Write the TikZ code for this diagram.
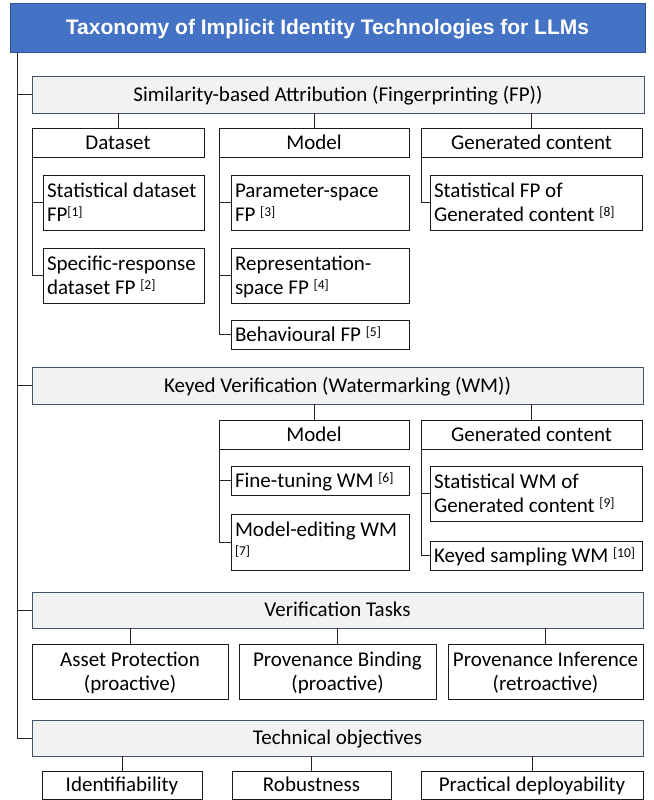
\documentclass[tikz,border=0pt]{standalone}
\usepackage{fontspec}
\setmainfont{Carlito}
\newfontfamily\titlefont{Liberation Sans}
\definecolor{titleblue}{HTML}{4472C4}
\definecolor{titleborder}{HTML}{2F528F}
\definecolor{catfill}{HTML}{F2F2F2}
\definecolor{catborder}{HTML}{44546A}
\definecolor{boxline}{HTML}{1A1A1A}
\definecolor{connline}{HTML}{262626}
\newcommand\rf[1]{\raisebox{5bp}{\fontsize{13.5bp}{13.5bp}\selectfont[#1]}}
\newcommand\tstrut{\rule[-5.5bp]{0pt}{24bp}}
% centred box: style, name, x1, y1, x2, y2, text
\newcommand\cbox[7]{%
  \pgfmathsetlengthmacro\bw{(#5-#3)*1bp}%
  \pgfmathsetlengthmacro\bh{(#6-#4)*1bp}%
  \node[#1, minimum width=\bw, minimum height=\bh] (#2) at ({(#3+#5)/2},{(#4+#6)/2}) {\spaceskip=0pt\xspaceskip=0pt\relax\tstrut #7\tstrut};}
% left-aligned leaf box: name, x1, y1, x2, y2, text
\newcommand\leafbox[6]{%
  \pgfmathsetlengthmacro\bw{(#4-#2)*1bp}%
  \pgfmathsetlengthmacro\bh{(#5-#3)*1bp}%
  \pgfmathsetlengthmacro\tw{(#4-#2-8)*1bp}%
  \node[leaf, minimum width=\bw, minimum height=\bh, text width=\tw] (#1) at ({(#2+#4)/2},{(#3+#5)/2}) {\spaceskip=0pt\xspaceskip=0pt\relax\tstrut #6\tstrut};}
\begin{document}
\begin{tikzpicture}[x=1bp,y=-1bp,
  font=\fontsize{21bp}{24bp}\selectfont,
  base/.style={inner sep=0pt, outer sep=0pt, line width=1bp},
  titlebox/.style={base, draw=titleborder, fill=titleblue, text=white,
    font=\titlefont\bfseries\fontsize{21bp}{24bp}\selectfont},
  catbox/.style={base, draw=catborder, fill=catfill},
  subbox/.style={base, draw=boxline, fill=white, align=center},
  leaf/.style={base, draw=boxline, fill=white, align=left, inner xsep=4bp},
  conn/.style={draw=connline, line width=1bp}]
\useasboundingbox (0,0) rectangle (654,800);

% title and categories
\cbox{titlebox}{title}{10}{4}{645}{53}{Taxonomy of Implicit Identity Technologies for LLMs}
\cbox{catbox}{sim}{32}{76}{644}{113}{Similarity-based Attribution (Fingerprinting (FP))}
\cbox{catbox}{kv}{32}{367}{643}{404}{Keyed Verification (Watermarking (WM))}
\cbox{catbox}{vt}{32}{592}{643}{628}{Verification Tasks}
\cbox{catbox}{tob}{32}{720}{643}{756}{Technical objectives}

% fingerprinting
\cbox{subbox}{fpds}{32}{128}{204}{157}{Dataset}
\cbox{subbox}{fpmd}{219}{128}{409}{157}{Model}
\cbox{subbox}{fpgc}{421}{128}{642}{157}{Generated content}
\leafbox{ds1}{43}{175}{204}{230}{Statistical dataset\\FP\rf{1}}
\leafbox{ds2}{43}{248}{204}{303}{Specific-response\\dataset FP \rf{2}}
\leafbox{md1}{231}{175}{409}{230}{Parameter-space\\FP \rf{3}}
\leafbox{md2}{231}{248}{409}{303}{Representation-\\space FP \rf{4}}
\leafbox{md3}{231}{320}{409}{349}{Behavioural FP \rf{5}}
\leafbox{gc1}{430}{175}{642}{230}{Statistical FP of\\Generated content \rf{8}}

% watermarking
\cbox{subbox}{wmmd}{219}{420}{409}{449}{Model}
\cbox{subbox}{wmgc}{421}{420}{642}{449}{Generated content}
\leafbox{wm1}{231}{466}{409}{495}{Fine-tuning WM \rf{6}}
\leafbox{wm2}{231}{514}{409}{570}{Model-editing WM\\\rf{7}}
\leafbox{wg1}{430}{466}{642}{521}{Statistical WM of\\Generated content \rf{9}}
\leafbox{wg2}{430}{541}{642}{570}{Keyed sampling WM \rf{10}}

% tasks
\cbox{subbox}{t1}{32}{644}{228}{699}{Asset Protection\\(proactive)}
\cbox{subbox}{t2}{239}{644}{436}{699}{Provenance Binding\\(proactive)}
\cbox{subbox}{t3}{448}{644}{643}{699}{Provenance Inference\\(retroactive)}

% objectives
\cbox{subbox}{o1}{42}{771}{202}{799}{Identifiability}
\cbox{subbox}{o2}{232}{771}{391}{799}{Robustness}
\cbox{subbox}{o3}{421}{771}{643}{799}{Practical deployability}

% trunk
\coordinate (trunk) at ([xshift=7bp]title.south west);
\foreach \n in {sim,kv,vt,tob} \draw[conn] (trunk) |- (\n.west);

% category to sub-boxes
\foreach \c in {fpds,fpmd,fpgc} \draw[conn] (sim.south -| \c.north) -- (\c.north);
\foreach \c in {wmmd,wmgc} \draw[conn] (kv.south -| \c.north) -- (\c.north);
\foreach \c in {t1,t2,t3} \draw[conn] (vt.south -| \c.north) -- (\c.north);
\foreach \c in {o1,o2,o3} \draw[conn] (tob.south -| \c.north) -- (\c.north);

% sub-boxes to leaves
\foreach \c in {ds1,ds2} \draw[conn] (fpds.south west) |- (\c.west);
\foreach \c in {md1,md2,md3} \draw[conn] (fpmd.south west) |- (\c.west);
\draw[conn] (fpgc.south west) |- (gc1.west);
\foreach \c in {wm1,wm2} \draw[conn] (wmmd.south west) |- (\c.west);
\foreach \c in {wg1,wg2} \draw[conn] (wmgc.south west) |- (\c.west);
\end{tikzpicture}
\end{document}
